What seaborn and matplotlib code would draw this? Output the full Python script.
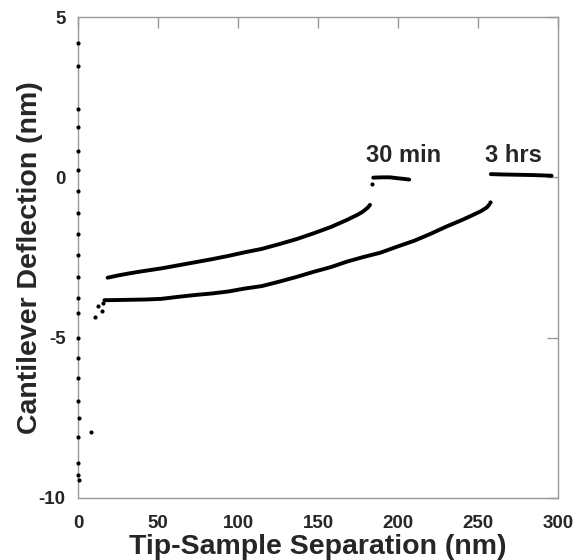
import numpy as np
import pandas as pd
import matplotlib
matplotlib.use("Agg")
import matplotlib.pyplot as plt
import seaborn as sns

# sparse points near contact
sparse_x = [0, 0, 0, 0, 0, 0, 0, 0, 0, 0, 0, 0, 0, 0, 0, 0, 0, 0.5, 0, 0, 0, 0.5,
            8, 10.6, 12.3, 14.8, 15.8]
sparse_y = [4.19, 3.47, 2.13, 1.57, 0.82, 0.23, -0.43, -1.11, -1.77, -2.42, -3.11,
            -3.76, -4.23, -5.0, -5.63, -6.26, -6.97, -7.50, -8.10, -8.91, -9.28, -9.44,
            -7.93, -4.35, -4.0, -4.16, -3.93]

# 30 min curve
min30_x = [18.5, 25, 31.5, 40, 52, 62, 73, 84, 94, 104, 115, 126, 137, 147, 158,
           168, 175, 178, 181, 182.5]
min30_y = [-3.13, -3.06, -3.00, -2.93, -2.84, -2.75, -2.65, -2.55, -2.45, -2.34,
           -2.23, -2.08, -1.92, -1.75, -1.55, -1.33, -1.16, -1.07, -0.95, -0.86]
min30_jump_x = [183.5]
min30_jump_y = [-0.21]
min30_flat_x = [184.5, 190, 195, 200, 204, 207]
min30_flat_y = [-0.01, 0.0, 0.0, -0.03, -0.05, -0.07]

# 3 hrs curve
hrs3_x = [16.5, 20, 31.5, 42, 52, 62, 73, 84, 94, 104, 115, 126, 137, 147, 158,
          168, 178, 189, 199, 210, 220, 230, 240, 247, 252, 255.5, 257]
hrs3_y = [-3.83, -3.83, -3.82, -3.81, -3.79, -3.73, -3.67, -3.62, -3.56, -3.47,
          -3.39, -3.25, -3.10, -2.95, -2.80, -2.63, -2.49, -2.35, -2.17, -1.98,
          -1.77, -1.54, -1.33, -1.17, -1.05, -0.94, -0.85]
hrs3_jump_x = [257.5]
hrs3_jump_y = [-0.78]
hrs3_flat_x = [258, 265, 275, 285, 296]
hrs3_flat_y = [0.10, 0.09, 0.08, 0.07, 0.05]

labels = ["30 min", "3 hrs"]
label_x = [203.75, 272]
label_y = [0.69, 0.69]

xticks = [0, 50, 100, 150, 200, 250, 300]
yticks = [-10, -5, 0, 5]

sns.set_style("white")
plt.rcParams['font.family'] = ['Liberation Sans', 'DejaVu Sans']

fig = plt.figure(figsize=(5.77, 5.60), dpi=100)
ax = fig.add_axes([78/577, 1-498/560, 480/577, 481/560])

dot_kw = dict(color="black", s=9, linewidth=0, marker="o", clip_on=False, zorder=4)
line_kw = dict(color="black", linewidth=2.8, sort=False, estimator=None)

sns.scatterplot(x=sparse_x, y=sparse_y, ax=ax, **dot_kw)
sns.lineplot(x=min30_x, y=min30_y, ax=ax, **line_kw)
sns.lineplot(x=min30_flat_x, y=min30_flat_y, ax=ax, **line_kw)
sns.scatterplot(x=min30_jump_x, y=min30_jump_y, ax=ax, **dot_kw)
sns.lineplot(x=hrs3_x, y=hrs3_y, ax=ax, **line_kw)
sns.lineplot(x=hrs3_flat_x, y=hrs3_flat_y, ax=ax, **line_kw)
sns.scatterplot(x=hrs3_jump_x, y=hrs3_jump_y, ax=ax, **dot_kw)

for t, x, y in zip(labels, label_x, label_y):
    ax.text(x, y, t, ha="center", va="center", fontsize=17, fontweight="bold")

ax.set_xlim(0, 300)
ax.set_ylim(-10, 5)
ax.set_xticks(xticks)
ax.set_yticks(yticks)
ax.set_xticklabels([str(v) for v in xticks], fontweight="bold", fontsize=13.5)
ax.set_yticklabels([str(v) for v in yticks], fontweight="bold", fontsize=13.5)
ax.tick_params(axis="both", which="major", direction="in", length=8, width=1,
               color="#999999", top=True, right=True, labeltop=False, labelright=False)
ax.tick_params(axis="x", pad=12)
ax.tick_params(axis="y", pad=9)
for s in ax.spines.values():
    s.set_color("#999999")
    s.set_linewidth(1)
ax.set_xlabel("Tip-Sample Separation (nm)", fontsize=20.5, fontweight="bold")
ax.set_ylabel("Cantilever Deflection (nm)", fontsize=20.5, fontweight="bold")
ax.xaxis.set_label_coords(0.5, -0.074)
ax.yaxis.set_label_coords(-0.072, 0.5)

fig.savefig("out.png", dpi=100)
